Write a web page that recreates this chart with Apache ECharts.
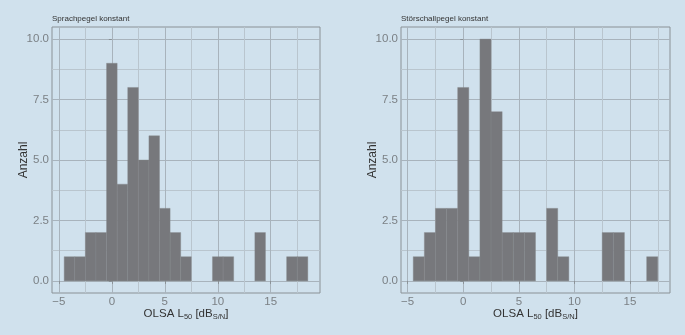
<!DOCTYPE html>
<html>
<head>
<meta charset="utf-8">
<script src="https://cdn.jsdelivr.net/npm/echarts@6/dist/echarts.min.js"></script>
<style>
html,body{margin:0;padding:0;background:#d0e1ed;}
#chart{width:685px;height:335px;}
</style>
</head>
<body>
<div id="chart"></div>
<script>
// ---- data ----
var panelTitles = ['Sprachpegel konstant', 'Störschallpegel konstant'];
var binCenters1 = [-4,-3,-2,-1,0,1,2,3,4,5,6,7,8,9,10,11,12,13,14,15,16,17,18];
var counts1     = [ 1, 1, 2, 2,9,4,8,5,6,3,2,1,0,0, 1, 1, 0, 0, 2, 0, 0, 1, 1];
var binCenters2 = [-4,-3,-2,-1,0,1,2,3,4,5,6,7,8,9,10,11,12,13,14,15,16,17];
var counts2     = [ 1, 2, 3, 3,8,1,10,7,2,2,2,0,3,1, 0, 0, 0, 2, 2, 0, 0, 1];
var binWidth = 1;
var xMajorTicks = [-5, 0, 5, 10, 15];
var xMinorTicks = [-2.5, 2.5, 7.5, 12.5, 17.5];
var yMajorTicks = [0, 2.5, 5, 7.5, 10];
var yMinorTicks = [1.25, 3.75, 6.25, 8.75];
var yLabel = 'Anzahl';

var chart = echarts.init(document.getElementById('chart'), null, {renderer: 'canvas'});

var bg = '#d0e1ed';
var barColor = '#77787c';
var gridCol = '#a8b3bc';
var minorCol = '#b9c5ce';
var borderCol = '#8a9196';
var tickLabelCol = '#7b8085';
var font = 'Liberation Sans, Arial, sans-serif';

function mkData(c, v) { return c.map(function (x, i) { return [x, v[i]]; }); }

var grids = [
  {left: 52, top: 27, width: 268, height: 266},
  {left: 401, top: 27, width: 269, height: 266}
];
var xRanges = [[-5.65, 19.65], [-5.6, 18.6]];

var xAxes = [], yAxes = [], series = [], titles = [];
grids.forEach(function (g, i) {
  g.show = true; g.borderColor = borderCol; g.borderWidth = 1; g.backgroundColor = 'transparent';
  g.containLabel = false;
  xAxes.push({
    type: 'value', gridIndex: i, min: xRanges[i][0], max: xRanges[i][1],
    axisLine: {show: false},
    axisTick: {show: true, length: 3, lineStyle: {color: borderCol}, customValues: xMajorTicks},
    axisLabel: {customValues: xMajorTicks, color: tickLabelCol, fontSize: 11.5, fontFamily: font, margin: 3,
      formatter: function (v) { return v < 0 ? '\u2212' + Math.abs(v) : String(v); }},
    splitLine: {show: true, lineStyle: {color: gridCol, width: 1}},
    name: 'OLSA L{sub|50} [dB{sub|S/N}]',
    nameLocation: 'middle', nameGap: 14, nameMoveOverlap: false,
    nameTextStyle: {color: '#333', fontSize: 11.5, fontFamily: font, verticalAlign: 'top',
      rich: {sub: {fontSize: 7.5, fontFamily: font, color: '#333', padding: [6, 0, 0, 0]}}}
  });
  xAxes.push({
    type: 'value', gridIndex: i, min: xRanges[i][0], max: xRanges[i][1],
    axisLine: {show: false}, axisLabel: {show: false},
    axisTick: {show: false, customValues: xMinorTicks},
    splitLine: {show: true, lineStyle: {color: minorCol, width: 1}}
  });
  yAxes.push({
    type: 'value', gridIndex: i, min: -0.5, max: 10.5,
    axisLine: {show: false},
    axisTick: {show: true, length: 3, lineStyle: {color: borderCol}, customValues: yMajorTicks},
    axisLabel: {customValues: yMajorTicks, color: tickLabelCol, fontSize: 11.5, fontFamily: font, margin: 3,
      formatter: function (v) { return v.toFixed(1); }},
    splitLine: {show: true, lineStyle: {color: gridCol, width: 1}},
    name: yLabel, nameLocation: 'middle', nameGap: 22, nameRotate: 90, nameMoveOverlap: false,
    nameTextStyle: {color: '#333', fontSize: 12, fontFamily: font}
  });
  yAxes.push({
    type: 'value', gridIndex: i, min: -0.5, max: 10.5,
    axisLine: {show: false}, axisLabel: {show: false},
    axisTick: {show: false, customValues: yMinorTicks},
    splitLine: {show: true, lineStyle: {color: minorCol, width: 1}}
  });
  titles.push({
    text: panelTitles[i], left: g.left, top: 15, padding: 0,
    textStyle: {fontSize: 8, fontWeight: 'normal', color: '#333', fontFamily: font}
  });
});

var datasets = [mkData(binCenters1, counts1), mkData(binCenters2, counts2)];
datasets.forEach(function (d, i) {
  series.push({
    type: 'custom', xAxisIndex: i * 2, yAxisIndex: i * 2,
    data: d.filter(function (p) { return p[1] > 0; }),
    renderItem: function (params, api) {
      var x = api.value(0), y = api.value(1);
      var p1 = api.coord([x - binWidth / 2, y]);
      var p2 = api.coord([x + binWidth / 2, 0]);
      return {
        type: 'rect',
        shape: {x: p1[0], y: p1[1], width: p2[0] - p1[0], height: p2[1] - p1[1]},
        style: {fill: barColor, stroke: '#87888c', lineWidth: 0.4}
      };
    },
    encode: {x: 0, y: 1},
    silent: true
  });
});

chart.setOption({
  backgroundColor: bg,
  animation: false,
  title: titles,
  grid: grids,
  xAxis: xAxes,
  yAxis: yAxes,
  series: series
});
</script>
</body>
</html>
